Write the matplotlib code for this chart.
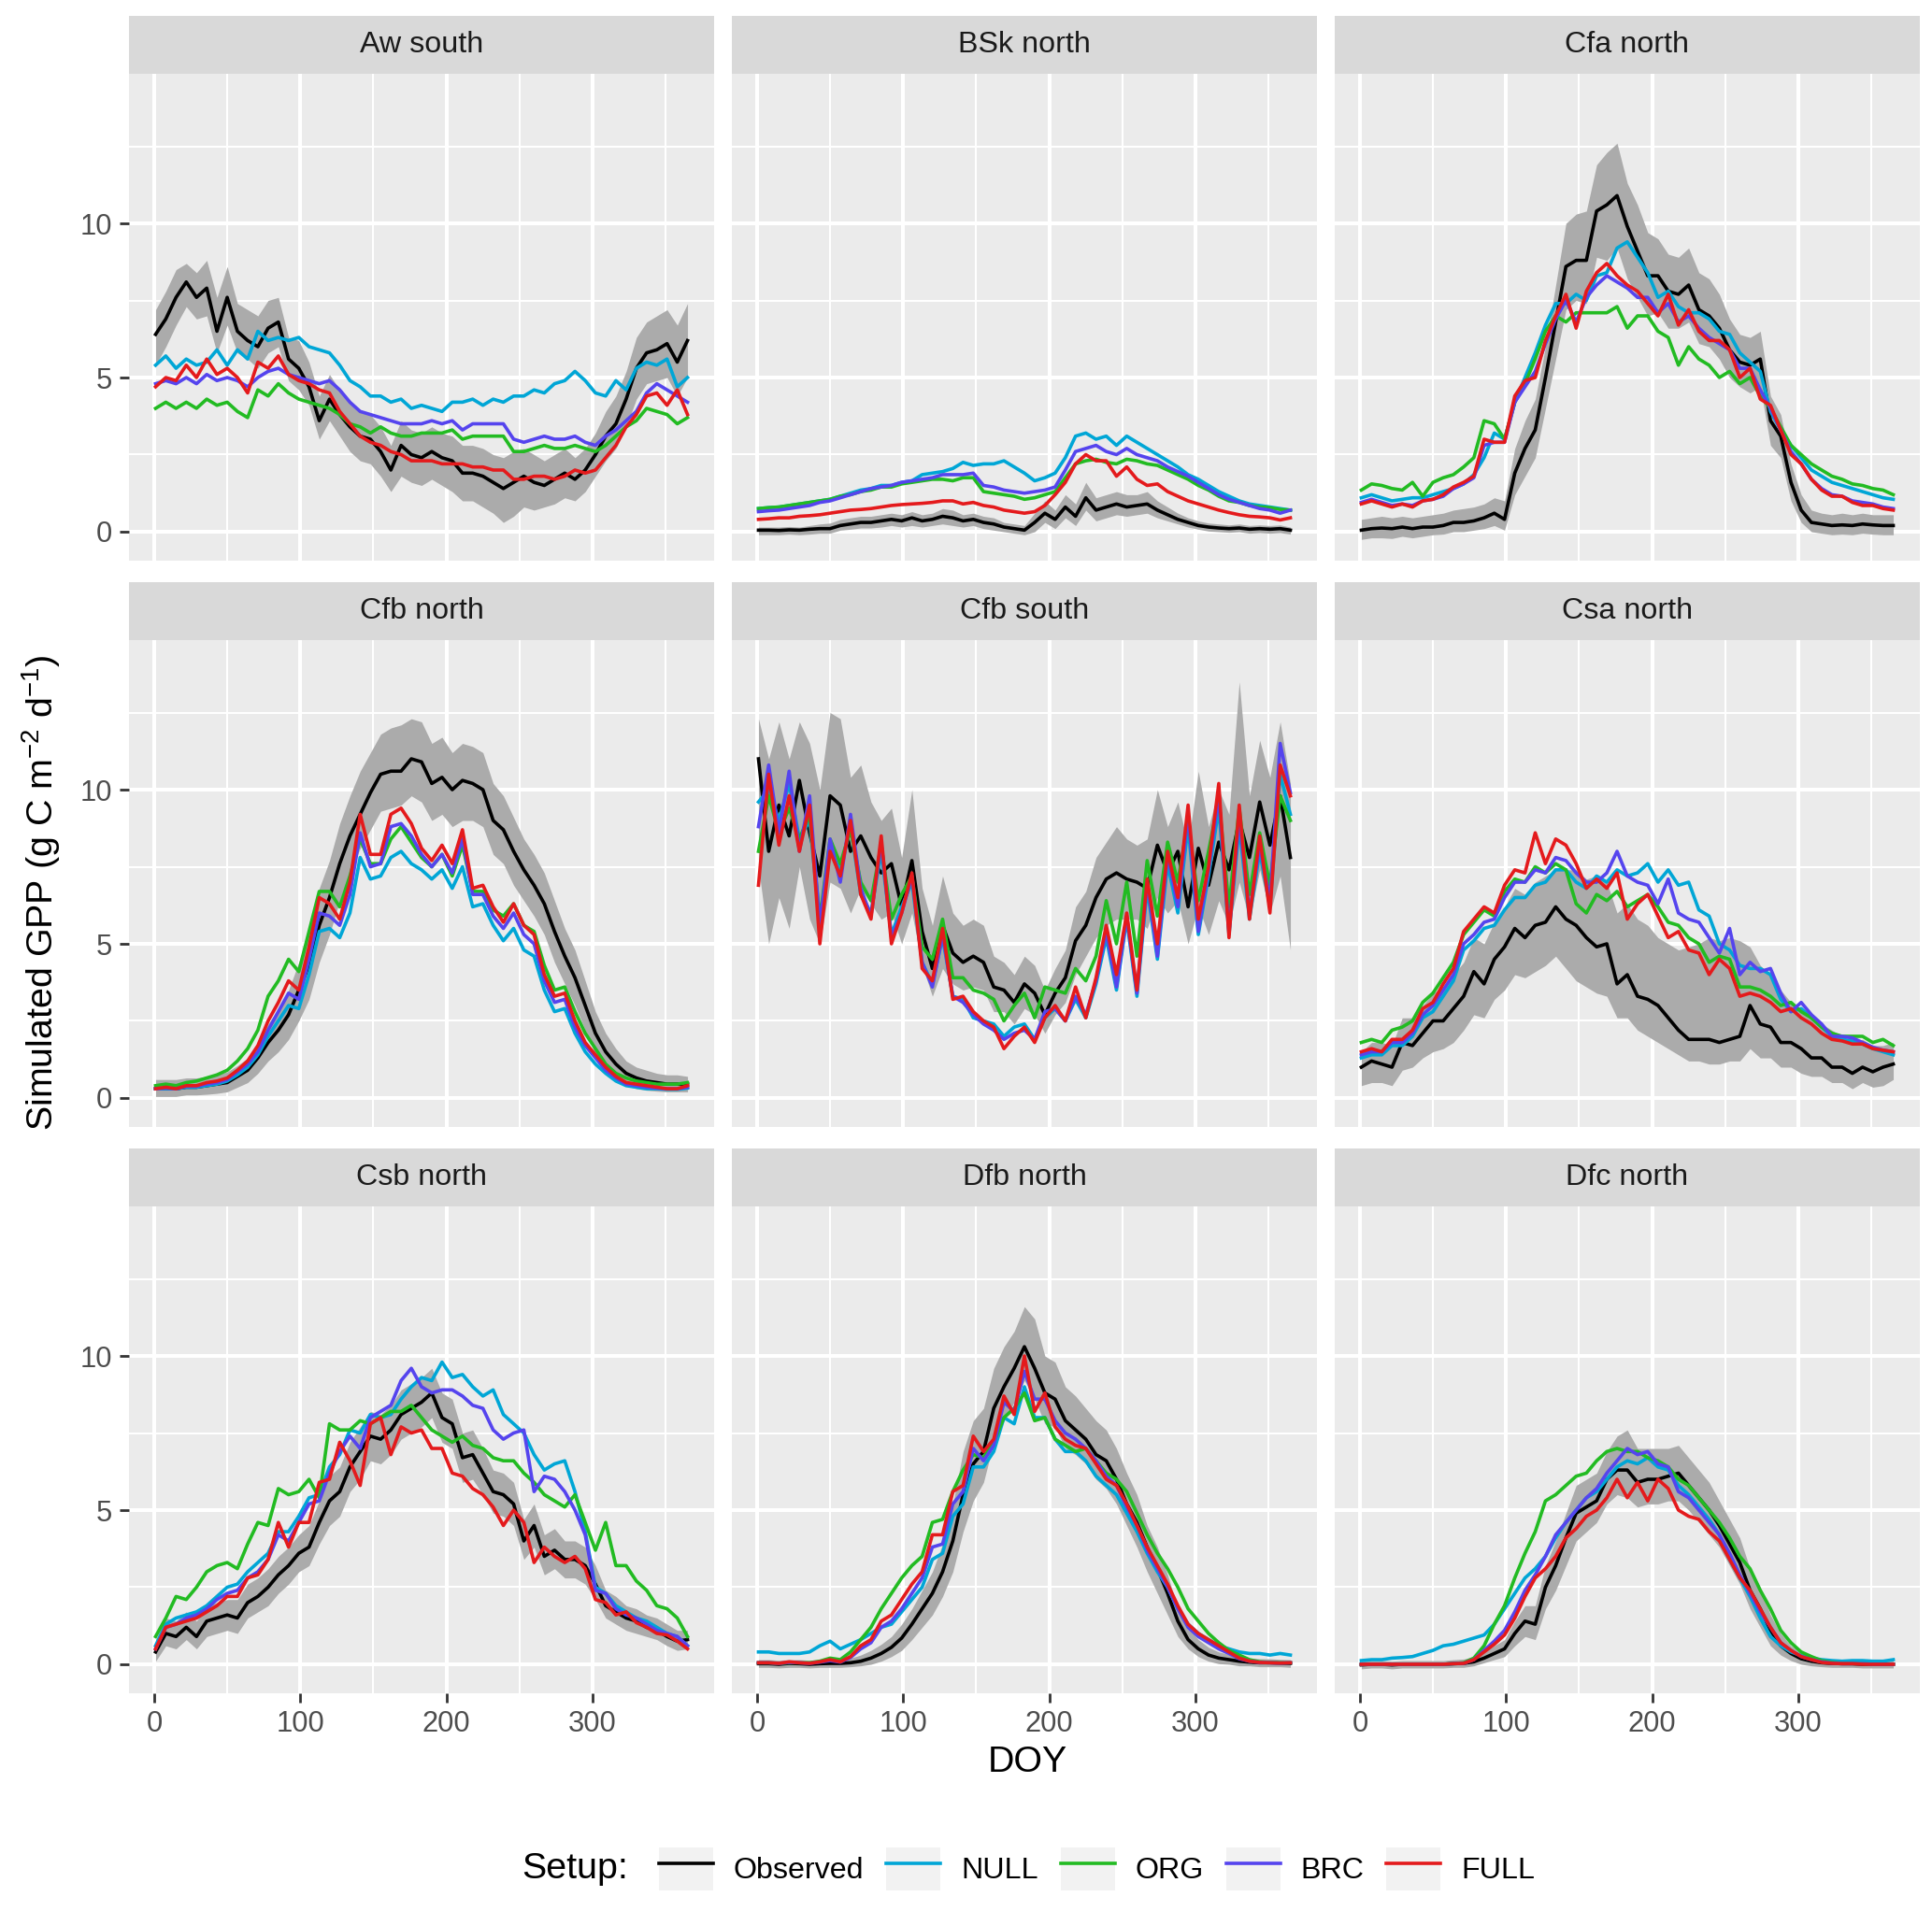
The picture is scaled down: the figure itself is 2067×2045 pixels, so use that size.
import matplotlib

matplotlib.use("Agg")
import matplotlib.pyplot as plt
from matplotlib.lines import Line2D
from matplotlib.patches import Rectangle

W, H, DPI = 2067, 2045, 200

plt.rcParams.update(
    {
        "font.family": ["Liberation Sans", "DejaVu Sans"],
        "mathtext.fontset": "custom",
        "mathtext.rm": "Liberation Sans",
        "mathtext.default": "regular",
    }
)

PANEL_BG = "#EBEBEB"
STRIP_BG = "#D9D9D9"
RIBBON = "#ABABAB"
COLORS = {
    "Observed": "black",
    "NULL": "#00A6D6",
    "ORG": "#22BB22",
    "BRC": "#5544EE",
    "FULL": "#E41A1C",
}
SETUPS = ["Observed", "NULL", "ORG", "BRC", "FULL"]

# day of year of every sampled value (weekly)
DOY = [1, 8, 15, 22, 29, 36, 43, 50, 57, 64,
       71, 78, 85, 92, 99, 106, 113, 120, 127, 134,
       141, 148, 155, 162, 169, 176, 183, 190, 197, 204,
       211, 218, 225, 232, 239, 246, 253, 260, 267, 274,
       281, 288, 295, 302, 309, 316, 323, 330, 337, 344,
       351, 358, 365]

# --- Aw south
AW_OBS = [6.4, 6.9, 7.6, 8.1, 7.6, 7.9, 6.5, 7.6, 6.5, 6.2, 6.0, 6.6, 6.8, 5.6, 5.3, 4.7, 3.6, 4.3, 3.8, 3.4,
          3.1, 3.0, 2.6, 2.0, 2.8, 2.5, 2.4, 2.6, 2.4, 2.3, 1.9, 1.9, 1.8, 1.6, 1.4, 1.6, 1.8, 1.6, 1.5, 1.7,
          1.9, 1.7, 2.0, 2.5, 3.1, 3.5, 4.3, 5.3, 5.8, 5.9, 6.1, 5.5, 6.2]
AW_LO = [5.4, 6.0, 6.7, 7.3, 6.9, 7.0, 5.8, 6.7, 5.8, 5.6, 5.3, 5.8, 6.0, 4.9, 4.6, 4.1, 3.0, 3.6, 3.1, 2.6,
         2.3, 2.2, 1.8, 1.3, 1.8, 1.6, 1.5, 1.7, 1.5, 1.3, 1.0, 1.0, 0.8, 0.6, 0.3, 0.5, 0.8, 0.7, 0.8, 0.9,
         1.1, 1.0, 1.3, 1.8, 2.3, 2.7, 3.4, 4.3, 4.8, 4.9, 5.0, 4.4, 5.0]
AW_HI = [7.2, 7.8, 8.5, 8.7, 8.4, 8.8, 7.6, 8.6, 7.4, 7.2, 7.0, 7.5, 7.6, 6.3, 6.2, 5.5, 4.4, 5.1, 4.6, 4.2,
         3.9, 3.8, 3.4, 2.8, 3.6, 3.3, 3.2, 3.4, 3.2, 3.1, 2.8, 2.8, 2.7, 2.5, 2.4, 2.6, 2.7, 2.5, 2.3, 2.5,
         2.7, 2.4, 2.7, 3.2, 3.9, 4.4, 5.2, 6.3, 6.8, 7.0, 7.2, 6.7, 7.4]
AW_NULL = [5.4, 5.7, 5.3, 5.6, 5.4, 5.5, 5.9, 5.4, 5.9, 5.6, 6.5, 6.2, 6.3, 6.2, 6.3, 6.0, 5.9, 5.8, 5.4, 4.9,
           4.7, 4.4, 4.4, 4.2, 4.3, 4.0, 4.1, 4.0, 3.9, 4.2, 4.2, 4.3, 4.1, 4.3, 4.2, 4.4, 4.4, 4.6, 4.5, 4.8,
           4.9, 5.2, 4.9, 4.5, 4.4, 4.9, 4.6, 5.3, 5.5, 5.4, 5.6, 4.7, 5.0]
AW_ORG = [4.0, 4.2, 4.0, 4.2, 4.0, 4.3, 4.1, 4.2, 3.9, 3.7, 4.6, 4.4, 4.8, 4.5, 4.3, 4.2, 4.1, 4.0, 3.8, 3.5,
          3.4, 3.2, 3.4, 3.2, 3.1, 3.1, 3.2, 3.2, 3.2, 3.3, 3.0, 3.1, 3.1, 3.1, 3.1, 2.6, 2.6, 2.7, 2.8, 2.7,
          2.7, 2.8, 2.7, 2.6, 2.8, 3.1, 3.4, 3.6, 4.0, 3.9, 3.8, 3.5, 3.7]
AW_BRC = [4.8, 4.9, 4.8, 5.0, 4.8, 5.1, 4.9, 5.0, 4.9, 4.7, 5.0, 5.2, 5.3, 5.1, 5.0, 4.9, 4.8, 4.9, 4.6, 4.2,
          3.9, 3.8, 3.7, 3.6, 3.5, 3.5, 3.5, 3.6, 3.5, 3.6, 3.3, 3.5, 3.5, 3.5, 3.5, 3.0, 2.9, 3.0, 3.1, 3.0,
          3.0, 3.1, 2.9, 2.8, 3.1, 3.3, 3.6, 3.9, 4.5, 4.8, 4.6, 4.4, 4.2]
AW_FULL = [4.7, 5.0, 4.9, 5.4, 5.0, 5.6, 5.1, 5.3, 5.0, 4.5, 5.5, 5.3, 5.7, 5.1, 4.9, 4.8, 4.6, 4.5, 3.9, 3.5,
           3.1, 2.9, 2.8, 2.6, 2.5, 2.3, 2.3, 2.3, 2.2, 2.2, 2.2, 2.1, 2.1, 2.0, 2.0, 1.7, 1.7, 1.8, 1.8, 1.7,
           1.8, 2.0, 1.9, 2.0, 2.4, 2.8, 3.4, 3.8, 4.4, 4.5, 4.1, 4.6, 3.8]

# --- BSk north
BSK_OBS = [0.05, 0.05, 0.04, 0.06, 0.05, 0.08, 0.1, 0.1, 0.2, 0.25, 0.3, 0.3, 0.35, 0.4, 0.35, 0.45, 0.35, 0.4,
           0.5, 0.45, 0.35, 0.4, 0.3, 0.25, 0.15, 0.1, 0.05, 0.3, 0.6, 0.4, 0.8, 0.5, 1.1, 0.7, 0.8, 0.9, 0.8,
           0.85, 0.9, 0.7, 0.55, 0.4, 0.3, 0.2, 0.15, 0.12, 0.1, 0.12, 0.08, 0.1, 0.08, 0.1, 0.05]
BSK_LO = [-0.1, -0.1, -0.1, -0.08, -0.1, -0.08, -0.05, -0.05, 0.05, 0.08, 0.12, 0.12, 0.15, 0.2, 0.15, 0.2,
          0.15, 0.2, 0.25, 0.2, 0.15, 0.2, 0.1, 0.05, 0.0, -0.05, -0.1, 0.0, 0.3, 0.1, 0.45, 0.2, 0.7, 0.35,
          0.45, 0.55, 0.5, 0.55, 0.6, 0.45, 0.35, 0.25, 0.15, 0.08, 0.02, 0.0, -0.02, 0.0, -0.05, -0.03, -0.05,
          -0.03, -0.08]
BSK_HI = [0.15, 0.15, 0.15, 0.17, 0.15, 0.2, 0.25, 0.28, 0.4, 0.45, 0.5, 0.5, 0.55, 0.6, 0.55, 0.65, 0.55, 0.6,
          0.75, 0.7, 0.55, 0.6, 0.5, 0.45, 0.3, 0.25, 0.2, 0.6, 1.0, 0.7, 1.2, 0.9, 1.6, 1.1, 1.2, 1.3, 1.2, 1.2,
          1.3, 1.0, 0.8, 0.6, 0.45, 0.35, 0.28, 0.25, 0.22, 0.25, 0.2, 0.22, 0.2, 0.22, 0.15]
BSK_NULL = [0.75, 0.78, 0.8, 0.85, 0.9, 0.95, 1.0, 1.05, 1.15, 1.25, 1.35, 1.4, 1.5, 1.5, 1.6, 1.65, 1.85, 1.9,
            1.95, 2.05, 2.25, 2.15, 2.2, 2.2, 2.3, 2.1, 1.9, 1.65, 1.75, 1.9, 2.4, 3.1, 3.2, 3.0, 3.1, 2.8, 3.1,
            2.9, 2.7, 2.5, 2.3, 2.1, 1.85, 1.7, 1.5, 1.3, 1.15, 1.0, 0.9, 0.85, 0.8, 0.75, 0.7]
BSK_ORG = [0.75, 0.78, 0.8, 0.85, 0.9, 0.95, 1.0, 1.05, 1.15, 1.2, 1.3, 1.35, 1.45, 1.45, 1.55, 1.6, 1.65, 1.7,
           1.7, 1.65, 1.75, 1.75, 1.3, 1.25, 1.2, 1.15, 1.05, 1.1, 1.2, 1.3, 1.75, 2.2, 2.3, 2.35, 2.25, 2.2,
           2.35, 2.3, 2.2, 2.15, 2.0, 1.85, 1.7, 1.5, 1.35, 1.15, 1.0, 0.95, 0.85, 0.8, 0.78, 0.72, 0.7]
BSK_BRC = [0.65, 0.68, 0.7, 0.75, 0.8, 0.85, 0.95, 1.0, 1.1, 1.2, 1.3, 1.4, 1.45, 1.5, 1.6, 1.65, 1.7, 1.75,
           1.85, 1.85, 1.85, 1.9, 1.5, 1.45, 1.35, 1.3, 1.25, 1.3, 1.35, 1.45, 2.0, 2.6, 2.7, 2.8, 2.6, 2.5, 2.7,
           2.5, 2.4, 2.3, 2.1, 1.95, 1.8, 1.6, 1.4, 1.2, 1.05, 0.95, 0.85, 0.75, 0.7, 0.6, 0.7]
BSK_FULL = [0.4, 0.42, 0.45, 0.45, 0.5, 0.52, 0.55, 0.6, 0.65, 0.7, 0.72, 0.75, 0.8, 0.85, 0.88, 0.9, 0.92, 0.95,
            1.0, 1.0, 0.9, 0.95, 0.85, 0.8, 0.7, 0.65, 0.6, 0.65, 0.85, 1.2, 1.6, 2.2, 2.5, 2.3, 2.3, 1.8, 2.1,
            1.7, 1.5, 1.55, 1.3, 1.15, 1.0, 0.9, 0.8, 0.7, 0.62, 0.55, 0.5, 0.48, 0.45, 0.38, 0.45]

# --- Cfa north
CFA_OBS = [0.05, 0.1, 0.12, 0.1, 0.15, 0.1, 0.15, 0.15, 0.2, 0.3, 0.3, 0.35, 0.45, 0.6, 0.4, 1.9, 2.7, 3.3, 5.0,
           6.8, 8.6, 8.8, 8.8, 10.4, 10.6, 10.9, 9.9, 9.1, 8.3, 8.3, 7.8, 7.7, 8.0, 7.2, 7.0, 6.6, 5.9, 5.5, 5.4,
           5.6, 3.6, 3.1, 1.6, 0.7, 0.3, 0.25, 0.2, 0.22, 0.2, 0.25, 0.22, 0.2, 0.2]
CFA_LO = [-0.25, -0.2, -0.2, -0.22, -0.15, -0.2, -0.15, -0.1, -0.08, 0.0, 0.0, 0.05, 0.1, 0.2, 0.05, 1.2, 1.8,
          2.4, 4.0, 5.6, 7.2, 7.5, 7.4, 8.9, 8.8, 9.2, 8.2, 7.6, 7.0, 7.1, 6.6, 6.6, 6.8, 6.1, 6.0, 5.6, 5.0,
          4.7, 4.5, 4.7, 2.8, 2.4, 1.0, 0.3, 0.0, -0.05, -0.1, -0.08, -0.1, -0.05, -0.08, -0.1, -0.1]
CFA_HI = [0.4, 0.45, 0.5, 0.45, 0.5, 0.45, 0.5, 0.55, 0.6, 0.7, 0.75, 0.8, 0.9, 1.1, 1.0, 2.7, 3.6, 4.3, 6.0,
          8.0, 10.0, 10.3, 10.4, 11.9, 12.3, 12.6, 11.3, 10.6, 9.7, 9.5, 9.0, 8.9, 9.2, 8.4, 8.2, 7.7, 6.9, 6.4,
          6.3, 6.5, 4.4, 3.8, 2.2, 1.2, 0.7, 0.6, 0.55, 0.6, 0.55, 0.6, 0.55, 0.55, 0.55]
CFA_NULL = [1.1, 1.2, 1.1, 1.0, 1.05, 1.1, 1.1, 1.2, 1.3, 1.4, 1.55, 1.85, 2.4, 3.2, 3.0, 4.2, 5.0, 5.8, 6.7,
            7.4, 7.4, 7.7, 7.5, 8.3, 8.4, 9.2, 9.4, 8.9, 8.4, 7.6, 7.8, 7.3, 7.1, 7.1, 6.9, 6.5, 6.4, 5.8, 5.5,
            5.2, 3.9, 3.3, 2.8, 2.4, 2.0, 1.8, 1.6, 1.5, 1.4, 1.3, 1.2, 1.1, 1.05]
CFA_ORG = [1.35, 1.55, 1.5, 1.4, 1.35, 1.6, 1.15, 1.6, 1.75, 1.85, 2.1, 2.4, 3.6, 3.5, 3.0, 4.2, 4.8, 5.6, 6.5,
           7.0, 6.8, 7.1, 7.1, 7.1, 7.1, 7.3, 6.6, 7.0, 7.0, 6.5, 6.3, 5.4, 6.0, 5.6, 5.4, 5.0, 5.2, 4.8, 5.0,
           4.4, 4.0, 3.4, 2.8, 2.5, 2.2, 2.0, 1.8, 1.7, 1.55, 1.5, 1.4, 1.35, 1.2]
CFA_BRC = [0.95, 1.05, 0.95, 0.85, 0.9, 0.85, 1.0, 1.05, 1.15, 1.4, 1.55, 1.75, 2.8, 2.9, 2.9, 4.2, 4.7, 5.2,
           6.1, 6.9, 7.5, 6.8, 7.6, 8.0, 8.3, 8.1, 7.9, 7.6, 7.6, 7.1, 7.4, 6.8, 7.0, 6.6, 6.3, 6.1, 5.9, 5.3,
           5.3, 4.6, 4.0, 3.3, 2.6, 2.2, 1.7, 1.4, 1.2, 1.15, 1.0, 0.95, 0.9, 0.8, 0.75]
CFA_FULL = [0.9, 1.0, 0.9, 0.8, 0.9, 0.8, 1.0, 1.05, 1.2, 1.45, 1.6, 1.8, 3.0, 2.9, 2.9, 4.4, 4.9, 5.0, 6.2,
            7.0, 7.7, 6.6, 7.8, 8.4, 8.7, 8.3, 8.0, 7.8, 7.4, 7.0, 7.7, 6.7, 7.2, 6.5, 6.2, 6.2, 5.9, 5.0, 5.3,
            4.3, 4.1, 3.3, 2.5, 2.2, 1.7, 1.35, 1.15, 1.15, 0.95, 0.85, 0.85, 0.75, 0.7]

# --- Cfb north
CFBN_OBS = [0.3, 0.3, 0.3, 0.35, 0.35, 0.4, 0.45, 0.5, 0.7, 0.9, 1.3, 1.8, 2.2, 2.7, 3.5, 4.3, 5.6, 6.5, 7.6,
            8.5, 9.2, 9.9, 10.5, 10.6, 10.6, 11.0, 10.9, 10.2, 10.4, 10.0, 10.3, 10.2, 10.0, 9.0, 8.7, 8.0, 7.4,
            6.9, 6.3, 5.4, 4.6, 3.9, 3.0, 2.1, 1.5, 1.1, 0.8, 0.65, 0.55, 0.5, 0.45, 0.45, 0.45]
CFBN_LO = [0.05, 0.05, 0.05, 0.1, 0.1, 0.12, 0.15, 0.2, 0.35, 0.5, 0.8, 1.2, 1.5, 1.9, 2.5, 3.2, 4.4, 5.3, 6.4,
           7.3, 8.1, 8.7, 9.3, 9.4, 9.5, 9.8, 9.6, 9.0, 9.2, 8.8, 9.0, 9.0, 8.8, 7.9, 7.6, 6.9, 6.4, 5.9, 5.3,
           4.4, 3.7, 3.0, 2.2, 1.4, 0.9, 0.6, 0.4, 0.3, 0.25, 0.22, 0.2, 0.2, 0.2]
CFBN_HI = [0.6, 0.6, 0.6, 0.65, 0.65, 0.7, 0.75, 0.85, 1.05, 1.3, 1.8, 2.4, 2.9, 3.5, 4.4, 5.4, 6.8, 7.7, 8.9,
           9.8, 10.6, 11.2, 11.8, 12.0, 12.1, 12.3, 12.2, 11.5, 11.7, 11.2, 11.5, 11.4, 11.2, 10.2, 9.8, 9.1,
           8.4, 7.9, 7.3, 6.4, 5.5, 4.8, 3.8, 2.8, 2.1, 1.6, 1.2, 1.0, 0.9, 0.8, 0.75, 0.75, 0.7]
CFBN_NULL = [0.3, 0.3, 0.3, 0.35, 0.35, 0.4, 0.45, 0.55, 0.75, 1.0, 1.4, 2.0, 2.5, 3.0, 2.9, 4.0, 5.4, 5.5, 5.2,
             6.0, 7.8, 7.1, 7.2, 7.8, 8.0, 7.6, 7.4, 7.1, 7.4, 6.8, 7.5, 6.2, 6.3, 5.6, 5.1, 5.5, 4.8, 4.6, 3.5,
             2.8, 2.9, 2.1, 1.5, 1.1, 0.8, 0.55, 0.4, 0.35, 0.3, 0.3, 0.28, 0.28, 0.32]
CFBN_ORG = [0.4, 0.45, 0.4, 0.5, 0.55, 0.65, 0.75, 0.9, 1.2, 1.6, 2.2, 3.3, 3.8, 4.5, 4.1, 5.4, 6.7, 6.7, 6.2,
            7.2, 8.4, 7.6, 7.6, 8.4, 8.8, 8.3, 7.8, 7.5, 7.9, 7.2, 8.2, 6.7, 6.7, 6.1, 5.9, 6.3, 5.6, 5.4, 4.3,
            3.5, 3.6, 2.8, 2.1, 1.6, 1.1, 0.8, 0.65, 0.55, 0.5, 0.45, 0.45, 0.45, 0.5]
CFBN_BRC = [0.3, 0.32, 0.3, 0.38, 0.38, 0.45, 0.5, 0.6, 0.85, 1.1, 1.5, 2.2, 2.8, 3.4, 3.2, 4.5, 6.0, 5.9, 5.6,
            6.6, 8.6, 7.5, 7.6, 8.8, 8.9, 8.5, 7.9, 7.5, 7.9, 7.3, 8.4, 6.6, 6.6, 5.9, 5.5, 6.0, 5.3, 5.0, 3.8,
            3.1, 3.2, 2.3, 1.7, 1.3, 0.9, 0.65, 0.45, 0.4, 0.35, 0.32, 0.3, 0.3, 0.35]
CFBN_FULL = [0.3, 0.35, 0.3, 0.4, 0.4, 0.5, 0.55, 0.65, 0.9, 1.2, 1.7, 2.5, 3.1, 3.8, 3.5, 4.9, 6.5, 6.3, 5.8,
             7.0, 9.2, 7.9, 7.9, 9.2, 9.4, 8.9, 8.1, 7.7, 8.2, 7.6, 8.7, 6.8, 6.9, 6.2, 5.7, 6.3, 5.6, 5.3, 4.0,
             3.3, 3.4, 2.5, 1.8, 1.4, 1.0, 0.7, 0.5, 0.45, 0.4, 0.35, 0.3, 0.3, 0.4]

# --- Cfb south
CFBS_OBS = [11.0, 8.0, 9.5, 8.5, 10.3, 8.6, 7.2, 9.8, 9.5, 8.0, 8.5, 7.8, 7.3, 7.6, 6.2, 7.7, 5.4, 4.2, 5.6,
            4.7, 4.4, 4.6, 4.4, 3.6, 3.5, 3.1, 3.7, 3.4, 2.7, 3.4, 3.9, 5.1, 5.6, 6.5, 7.1, 7.3, 7.1, 7.0, 6.8,
            8.2, 7.3, 8.0, 6.2, 8.1, 6.9, 8.3, 7.4, 9.0, 7.8, 9.6, 8.2, 9.8, 7.8]
CFBS_LO = [7.5, 5.0, 6.5, 5.5, 7.5, 5.8, 5.0, 7.0, 6.8, 6.0, 6.8, 6.3, 5.8, 6.0, 5.0, 6.0, 4.3, 3.3, 4.2, 3.7,
           3.5, 3.6, 3.5, 2.8, 2.8, 2.4, 2.9, 2.7, 2.1, 2.7, 3.1, 4.0, 4.6, 5.2, 5.6, 5.8, 5.8, 5.8, 5.5, 6.5,
           6.0, 6.4, 5.0, 6.2, 5.3, 6.4, 5.6, 7.0, 5.8, 7.4, 6.0, 7.2, 4.8]
CFBS_HI = [12.3, 11.0, 12.2, 11.0, 12.2, 11.5, 10.0, 12.5, 12.3, 10.4, 10.8, 9.6, 9.0, 9.4, 7.8, 10.0, 6.8, 5.6,
           7.2, 6.0, 5.6, 5.8, 5.6, 4.6, 4.4, 4.0, 4.6, 4.3, 3.5, 4.2, 4.8, 6.2, 6.7, 7.8, 8.3, 8.8, 8.4, 8.2,
           8.4, 10.0, 8.8, 9.6, 8.2, 10.6, 8.8, 10.0, 9.2, 13.5, 9.8, 11.6, 10.4, 12.2, 10.2]
CFBS_NULL = [9.6, 10.0, 9.0, 10.2, 8.4, 9.0, 5.6, 8.0, 7.4, 8.8, 6.6, 6.0, 8.0, 5.3, 6.2, 7.0, 4.4, 3.7, 5.2,
             3.3, 3.2, 2.6, 2.5, 2.4, 2.0, 2.3, 2.4, 1.9, 2.6, 2.9, 2.5, 3.2, 2.6, 3.7, 5.2, 3.5, 5.8, 3.3, 6.8,
             4.5, 7.6, 6.0, 8.8, 5.3, 7.2, 9.4, 5.3, 8.8, 5.8, 8.0, 6.2, 10.5, 9.2]
CFBS_ORG = [8.0, 9.8, 8.6, 9.4, 8.4, 9.2, 5.8, 8.4, 7.6, 8.7, 7.0, 6.4, 8.2, 5.8, 6.6, 7.2, 4.9, 4.5, 5.8, 3.9,
            3.9, 3.5, 3.4, 3.2, 2.5, 3.0, 3.4, 2.6, 3.6, 3.5, 3.4, 4.2, 3.8, 4.6, 6.4, 5.0, 7.0, 4.6, 7.7, 5.9,
            8.3, 7.0, 9.0, 6.4, 8.0, 9.7, 6.2, 9.4, 6.6, 8.6, 6.9, 9.8, 9.0]
CFBS_BRC = [8.8, 10.8, 8.6, 10.6, 8.0, 9.8, 5.6, 8.4, 7.0, 9.2, 6.8, 5.9, 8.3, 5.2, 6.0, 7.2, 4.4, 3.6, 5.3,
            3.3, 3.1, 2.7, 2.4, 2.2, 1.9, 2.1, 2.2, 1.9, 2.8, 2.9, 2.5, 3.3, 2.7, 3.8, 5.4, 3.6, 5.9, 3.4, 7.0,
            4.6, 7.9, 6.2, 9.2, 5.4, 7.4, 9.8, 5.4, 9.1, 6.0, 8.2, 6.4, 11.5, 9.9]
CFBS_FULL = [6.9, 10.5, 8.2, 9.8, 8.0, 9.5, 5.0, 8.0, 7.2, 9.0, 6.6, 5.8, 8.5, 5.0, 6.0, 7.3, 4.2, 3.8, 5.5,
             3.2, 3.3, 2.8, 2.5, 2.3, 1.6, 2.0, 2.3, 1.8, 2.6, 3.0, 2.5, 3.6, 2.6, 3.9, 5.6, 4.0, 6.0, 3.5, 7.1,
             5.0, 8.0, 6.5, 9.5, 5.8, 7.5, 10.2, 5.2, 9.5, 5.8, 8.5, 6.0, 10.8, 9.8]

# --- Csa north
CSA_OBS = [1.0, 1.2, 1.1, 1.0, 1.8, 1.7, 2.1, 2.5, 2.5, 2.9, 3.3, 4.1, 3.7, 4.5, 4.9, 5.5, 5.2, 5.6, 5.7, 6.2,
           5.8, 5.6, 5.2, 4.9, 5.0, 3.7, 4.0, 3.3, 3.2, 3.0, 2.6, 2.2, 1.9, 1.9, 1.9, 1.8, 1.9, 2.0, 3.0, 2.4,
           2.3, 1.8, 1.8, 1.6, 1.3, 1.3, 1.0, 1.0, 0.8, 1.0, 0.85, 1.0, 1.1]
CSA_LO = [0.4, 0.5, 0.5, 0.4, 0.9, 1.0, 1.3, 1.5, 1.6, 1.8, 2.2, 2.7, 2.6, 3.2, 3.5, 4.0, 3.9, 4.1, 4.3, 4.6,
          4.2, 3.8, 3.6, 3.4, 3.3, 2.6, 2.6, 2.2, 2.0, 1.8, 1.6, 1.4, 1.2, 1.2, 1.1, 1.1, 1.2, 1.2, 1.6, 1.3,
          1.3, 1.0, 1.0, 0.8, 0.7, 0.7, 0.5, 0.5, 0.3, 0.5, 0.35, 0.4, 0.6]
CSA_HI = [1.5, 1.8, 1.8, 1.7, 2.6, 2.6, 3.0, 3.4, 3.6, 4.0, 4.4, 5.2, 5.0, 5.7, 6.2, 6.8, 6.6, 7.0, 7.2, 7.4,
          7.4, 7.4, 7.1, 7.2, 7.0, 6.0, 6.3, 5.8, 5.6, 5.2, 5.0, 4.8, 4.9, 5.0, 5.2, 5.1, 5.2, 5.1, 4.9, 4.3,
          4.0, 3.5, 3.1, 2.9, 2.6, 2.4, 2.2, 2.0, 1.8, 1.9, 1.7, 1.7, 1.8]
CSA_NULL = [1.3, 1.4, 1.4, 1.7, 1.7, 2.0, 2.6, 2.8, 3.3, 3.8, 4.8, 5.1, 5.5, 5.6, 6.1, 6.5, 6.5, 6.9, 7.0, 7.4,
            7.4, 7.0, 6.8, 7.2, 7.0, 7.4, 7.2, 7.3, 7.6, 7.0, 7.4, 6.9, 7.0, 6.1, 5.9, 5.0, 4.8, 4.3, 4.2, 4.2,
            4.0, 3.2, 2.8, 2.9, 2.6, 2.3, 2.0, 1.9, 1.85, 1.75, 1.6, 1.5, 1.4]
CSA_ORG = [1.8, 1.9, 1.8, 2.2, 2.3, 2.5, 3.1, 3.4, 3.9, 4.4, 5.3, 5.7, 6.1, 5.9, 6.7, 7.1, 7.0, 7.5, 7.3, 7.6,
           7.4, 6.3, 6.0, 6.6, 6.4, 6.7, 6.2, 6.4, 6.6, 6.2, 5.7, 5.6, 5.2, 5.0, 4.4, 4.6, 4.5, 3.6, 3.6, 3.5,
           3.3, 3.0, 3.1, 2.8, 2.6, 2.3, 2.1, 2.0, 2.0, 2.0, 1.8, 1.9, 1.7]
CSA_BRC = [1.4, 1.5, 1.5, 1.8, 1.8, 2.1, 2.7, 3.0, 3.5, 4.0, 5.0, 5.3, 5.7, 5.8, 6.5, 7.0, 7.0, 7.4, 7.3, 7.8,
           7.7, 7.3, 7.0, 7.0, 7.3, 8.0, 7.2, 7.0, 6.9, 6.3, 7.1, 6.0, 5.8, 5.7, 5.2, 4.7, 5.5, 4.0, 4.4, 4.1,
           4.2, 3.4, 2.8, 3.1, 2.7, 2.4, 2.0, 2.0, 1.95, 1.8, 1.65, 1.55, 1.5]
CSA_FULL = [1.5, 1.6, 1.5, 1.9, 1.9, 2.2, 2.9, 3.1, 3.7, 4.2, 5.4, 5.8, 6.2, 6.0, 6.9, 7.4, 7.3, 8.6, 7.6, 8.4,
            8.2, 7.6, 6.8, 7.1, 6.8, 7.3, 5.8, 6.3, 6.6, 5.9, 5.2, 5.4, 4.8, 4.7, 4.0, 4.5, 4.2, 3.3, 3.4, 3.3,
            3.1, 2.8, 2.9, 2.6, 2.4, 2.1, 1.9, 1.85, 1.75, 1.75, 1.6, 1.55, 1.5]

# --- Csb north
CSB_OBS = [0.4, 1.0, 0.9, 1.2, 0.9, 1.4, 1.5, 1.6, 1.5, 2.0, 2.2, 2.5, 2.9, 3.2, 3.6, 3.8, 4.6, 5.3, 5.6, 6.4,
           6.9, 7.4, 7.3, 7.6, 8.1, 8.3, 8.5, 8.8, 8.0, 7.8, 6.7, 6.8, 6.2, 5.6, 5.5, 5.2, 4.0, 4.5, 3.5, 3.7,
           3.4, 3.4, 3.2, 2.6, 1.9, 1.7, 1.5, 1.4, 1.2, 1.1, 0.9, 0.75, 0.8]
CSB_LO = [0.1, 0.6, 0.5, 0.8, 0.5, 0.9, 1.0, 1.1, 1.0, 1.5, 1.7, 1.9, 2.3, 2.6, 3.0, 3.2, 3.9, 4.5, 4.8, 5.6,
          6.0, 6.6, 6.5, 6.8, 7.3, 7.5, 7.7, 8.0, 7.2, 7.0, 5.9, 6.0, 5.5, 4.9, 4.8, 4.5, 3.4, 3.8, 2.9, 3.1,
          2.8, 2.8, 2.6, 2.1, 1.5, 1.3, 1.1, 1.0, 0.9, 0.8, 0.6, 0.45, 0.5]
CSB_HI = [0.8, 1.5, 1.4, 1.7, 1.4, 1.9, 2.0, 2.1, 2.1, 2.6, 2.8, 3.1, 3.5, 3.8, 4.2, 4.5, 5.3, 6.1, 6.4, 7.2,
          7.7, 8.2, 8.1, 8.4, 8.9, 9.1, 9.3, 9.6, 8.8, 8.6, 7.5, 7.6, 7.0, 6.3, 6.2, 5.9, 4.7, 5.2, 4.2, 4.4,
          4.0, 4.0, 3.8, 3.2, 2.4, 2.2, 1.9, 1.8, 1.6, 1.5, 1.3, 1.1, 1.1]
CSB_NULL = [0.6, 1.3, 1.5, 1.6, 1.7, 1.9, 2.2, 2.5, 2.6, 3.0, 3.3, 3.6, 4.3, 4.3, 4.8, 5.4, 5.5, 6.4, 6.8, 7.6,
            7.5, 8.1, 8.0, 8.1, 8.6, 9.0, 9.3, 9.2, 9.8, 9.3, 9.4, 9.0, 8.7, 8.9, 8.1, 7.8, 7.5, 6.8, 6.3, 6.5,
            6.6, 5.6, 4.3, 2.5, 2.3, 1.9, 1.7, 1.5, 1.4, 1.2, 1.0, 0.9, 0.6]
CSB_ORG = [0.9, 1.5, 2.2, 2.1, 2.5, 3.0, 3.2, 3.3, 3.1, 3.9, 4.6, 4.5, 5.7, 5.5, 5.6, 6.0, 5.4, 7.8, 7.6, 7.6,
           7.9, 7.8, 8.0, 8.2, 8.2, 8.4, 8.0, 7.6, 7.4, 7.2, 7.4, 7.1, 7.0, 6.7, 6.6, 6.6, 6.2, 5.9, 5.5, 5.3,
           5.1, 5.5, 4.6, 3.7, 4.6, 3.2, 3.2, 2.7, 2.4, 1.9, 1.8, 1.5, 0.9]
CSB_BRC = [0.5, 1.2, 1.3, 1.5, 1.6, 1.8, 2.1, 2.3, 2.4, 2.8, 3.0, 3.4, 4.2, 4.0, 4.6, 5.2, 5.3, 6.2, 6.9, 7.4,
           7.0, 8.0, 8.2, 8.4, 9.2, 9.6, 9.0, 8.8, 8.9, 8.9, 8.7, 8.4, 8.3, 7.6, 7.3, 7.5, 7.6, 5.6, 6.1, 6.0,
           5.6, 5.0, 4.2, 2.4, 2.3, 1.8, 1.6, 1.5, 1.3, 1.1, 1.0, 0.9, 0.6]
CSB_FULL = [0.5, 1.2, 1.3, 1.4, 1.5, 1.7, 1.9, 2.2, 2.2, 2.8, 2.9, 3.4, 4.6, 3.8, 4.6, 4.6, 5.9, 6.0, 7.2, 6.6,
            5.8, 7.8, 8.0, 6.8, 7.7, 7.5, 7.6, 7.0, 7.0, 6.2, 6.1, 5.7, 5.5, 5.1, 4.5, 5.0, 4.6, 3.3, 3.8, 3.5,
            3.3, 3.5, 3.1, 2.1, 2.0, 1.6, 1.7, 1.35, 1.2, 1.0, 0.95, 0.75, 0.5]

# --- Dfb north
DFB_OBS = [0.02, 0.02, 0.0, 0.03, 0.02, 0.0, 0.02, 0.03, 0.03, 0.05, 0.1, 0.2, 0.35, 0.55, 0.85, 1.3, 1.8, 2.3,
           3.0, 4.0, 5.5, 6.5, 6.9, 8.3, 9.0, 9.6, 10.3, 9.6, 8.8, 8.6, 7.9, 7.6, 7.3, 6.8, 6.6, 6.0, 5.2, 4.6,
           3.8, 3.1, 2.3, 1.4, 0.8, 0.5, 0.3, 0.2, 0.15, 0.1, 0.07, 0.05, 0.05, 0.04, 0.03]
DFB_LO = [-0.1, -0.1, -0.12, -0.1, -0.1, -0.12, -0.1, -0.1, -0.1, -0.08, -0.05, 0.0, 0.1, 0.25, 0.45, 0.8, 1.2,
          1.6, 2.2, 3.0, 4.3, 5.3, 5.9, 7.2, 7.9, 8.5, 9.2, 8.6, 7.8, 7.7, 7.0, 6.8, 6.5, 6.0, 5.7, 5.2, 4.5,
          3.8, 3.0, 2.3, 1.6, 0.9, 0.5, 0.25, 0.1, 0.02, 0.0, -0.05, -0.05, -0.08, -0.08, -0.08, -0.1]
DFB_HI = [0.15, 0.15, 0.13, 0.15, 0.15, 0.13, 0.15, 0.17, 0.18, 0.2, 0.3, 0.45, 0.65, 0.9, 1.3, 1.8, 2.4, 3.0,
          3.9, 5.2, 6.9, 7.9, 8.3, 9.6, 10.3, 10.8, 11.6, 11.2, 10.0, 9.8, 9.0, 8.7, 8.3, 7.9, 7.6, 7.0, 6.2,
          5.5, 4.5, 3.8, 2.9, 1.8, 1.2, 0.8, 0.55, 0.4, 0.32, 0.25, 0.2, 0.18, 0.18, 0.16, 0.15]
DFB_NULL = [0.4, 0.4, 0.35, 0.35, 0.35, 0.4, 0.6, 0.75, 0.5, 0.65, 0.8, 1.0, 1.2, 1.3, 1.7, 2.1, 2.5, 3.4, 3.6,
            4.8, 5.2, 6.4, 6.4, 6.9, 8.0, 7.8, 9.0, 8.0, 8.0, 7.3, 6.9, 6.9, 6.6, 6.1, 5.8, 5.5, 4.9, 4.3, 3.6,
            3.0, 2.5, 1.8, 1.3, 1.0, 0.8, 0.6, 0.5, 0.4, 0.35, 0.35, 0.3, 0.35, 0.3]
DFB_ORG = [0.05, 0.05, 0.03, 0.05, 0.05, 0.05, 0.1, 0.2, 0.15, 0.4, 0.8, 1.2, 1.8, 2.3, 2.8, 3.2, 3.5, 4.6, 4.7,
           5.6, 6.3, 6.8, 6.7, 7.2, 8.0, 8.3, 8.8, 7.9, 8.0, 7.3, 7.1, 6.9, 7.0, 6.6, 6.2, 6.0, 5.6, 4.9, 4.2,
           3.6, 3.1, 2.5, 1.8, 1.4, 1.0, 0.7, 0.45, 0.3, 0.15, 0.08, 0.06, 0.05, 0.05]
DFB_BRC = [0.05, 0.05, 0.03, 0.06, 0.05, 0.03, 0.07, 0.12, 0.07, 0.22, 0.5, 0.7, 1.2, 1.4, 1.8, 2.3, 2.8, 3.8,
           3.9, 5.2, 5.6, 7.0, 6.6, 7.1, 8.5, 8.2, 9.5, 8.6, 8.6, 7.9, 7.5, 7.3, 7.0, 6.6, 6.1, 5.8, 5.1, 4.5,
           3.7, 3.1, 2.5, 1.8, 1.2, 0.9, 0.7, 0.5, 0.35, 0.18, 0.1, 0.06, 0.05, 0.04, 0.05]
DFB_FULL = [0.05, 0.05, 0.03, 0.08, 0.05, 0.03, 0.08, 0.15, 0.08, 0.25, 0.6, 0.8, 1.4, 1.6, 2.1, 2.6, 3.0, 4.2,
            4.2, 5.6, 5.8, 7.4, 6.9, 7.3, 8.7, 8.1, 10.0, 8.2, 8.8, 7.7, 7.3, 7.1, 7.0, 6.5, 6.0, 5.8, 5.2, 4.5,
            3.8, 3.2, 2.6, 1.9, 1.3, 1.0, 0.8, 0.6, 0.4, 0.2, 0.1, 0.06, 0.05, 0.04, 0.05]

# --- Dfc north
DFC_OBS = [-0.02, 0.0, 0.0, -0.02, 0.0, 0.0, 0.0, 0.0, 0.0, 0.02, 0.03, 0.08, 0.2, 0.35, 0.5, 1.0, 1.4, 1.3,
           2.5, 3.2, 4.1, 4.9, 5.1, 5.3, 6.0, 6.3, 6.3, 5.9, 6.0, 6.0, 6.1, 6.2, 5.8, 5.4, 5.0, 4.5, 3.9, 3.3,
           2.4, 1.8, 1.1, 0.6, 0.35, 0.18, 0.1, 0.05, 0.03, 0.02, 0.02, 0.0, 0.0, 0.0, 0.0]
DFC_LO = [-0.15, -0.12, -0.12, -0.15, -0.12, -0.12, -0.12, -0.12, -0.12, -0.1, -0.1, -0.05, 0.05, 0.15, 0.25,
          0.6, 0.9, 0.8, 1.8, 2.4, 3.2, 4.0, 4.3, 4.6, 5.2, 5.5, 5.4, 5.1, 5.2, 5.2, 5.3, 5.3, 5.0, 4.6, 4.2,
          3.8, 3.2, 2.6, 1.8, 1.2, 0.6, 0.3, 0.12, 0.0, -0.05, -0.08, -0.1, -0.1, -0.1, -0.12, -0.12, -0.12,
          -0.12]
DFC_HI = [0.1, 0.12, 0.12, 0.1, 0.12, 0.12, 0.12, 0.12, 0.12, 0.15, 0.17, 0.25, 0.4, 0.6, 0.8, 1.4, 1.9, 1.9,
          3.2, 4.0, 4.9, 5.8, 6.0, 6.2, 6.9, 7.4, 7.6, 7.0, 7.0, 7.0, 7.0, 7.1, 6.7, 6.3, 5.9, 5.3, 4.7, 4.1,
          3.1, 2.5, 1.6, 1.0, 0.6, 0.4, 0.25, 0.18, 0.15, 0.14, 0.14, 0.12, 0.12, 0.12, 0.12]
DFC_NULL = [0.12, 0.15, 0.15, 0.2, 0.22, 0.25, 0.35, 0.45, 0.6, 0.65, 0.75, 0.85, 0.95, 1.3, 1.8, 2.3, 2.8, 3.1,
            3.5, 4.1, 4.6, 5.0, 5.4, 5.6, 6.0, 6.4, 6.6, 6.5, 6.7, 6.4, 6.3, 5.8, 5.5, 5.1, 4.7, 4.2, 3.4, 2.8,
            2.2, 1.5, 0.9, 0.6, 0.4, 0.28, 0.2, 0.15, 0.12, 0.1, 0.12, 0.12, 0.1, 0.1, 0.15]
DFC_ORG = [0.0, 0.0, 0.0, 0.0, 0.0, 0.0, 0.0, 0.0, 0.0, 0.02, 0.05, 0.2, 0.6, 1.3, 1.9, 2.8, 3.6, 4.3, 5.3, 5.5,
           5.8, 6.1, 6.2, 6.6, 6.9, 7.0, 6.9, 6.9, 6.7, 6.6, 6.4, 6.0, 5.8, 5.4, 5.0, 4.6, 4.1, 3.5, 3.1, 2.4,
           1.8, 1.1, 0.7, 0.4, 0.25, 0.12, 0.06, 0.03, 0.02, 0.02, 0.0, 0.0, 0.0]
DFC_BRC = [0.0, 0.0, 0.0, 0.0, 0.0, 0.0, 0.0, 0.0, 0.0, 0.02, 0.03, 0.15, 0.45, 0.75, 1.1, 1.7, 2.4, 2.9, 3.5,
           4.2, 4.6, 5.0, 5.4, 5.7, 6.2, 6.6, 7.0, 6.8, 6.9, 6.5, 6.4, 5.6, 5.4, 5.0, 4.6, 4.2, 3.6, 2.9, 2.3,
           1.7, 1.2, 0.7, 0.45, 0.25, 0.15, 0.08, 0.04, 0.02, 0.02, 0.02, 0.0, 0.0, 0.0]
DFC_FULL = [0.0, 0.0, 0.0, 0.0, 0.0, 0.0, 0.0, 0.0, 0.0, 0.02, 0.03, 0.15, 0.4, 0.65, 0.95, 1.5, 2.2, 2.8, 3.1,
            3.5, 4.1, 4.4, 4.8, 5.0, 5.4, 6.0, 5.4, 5.9, 5.3, 6.0, 5.7, 5.0, 4.8, 4.7, 4.3, 4.0, 3.4, 2.8, 2.4,
            1.8, 1.2, 0.7, 0.45, 0.25, 0.15, 0.06, 0.03, 0.02, 0.02, 0.0, 0.0, 0.0, 0.0]

PANELS = [
    ("Aw south", AW_OBS, AW_LO, AW_HI, AW_NULL, AW_ORG, AW_BRC, AW_FULL),
    ("BSk north", BSK_OBS, BSK_LO, BSK_HI, BSK_NULL, BSK_ORG, BSK_BRC, BSK_FULL),
    ("Cfa north", CFA_OBS, CFA_LO, CFA_HI, CFA_NULL, CFA_ORG, CFA_BRC, CFA_FULL),
    ("Cfb north", CFBN_OBS, CFBN_LO, CFBN_HI, CFBN_NULL, CFBN_ORG, CFBN_BRC, CFBN_FULL),
    ("Cfb south", CFBS_OBS, CFBS_LO, CFBS_HI, CFBS_NULL, CFBS_ORG, CFBS_BRC, CFBS_FULL),
    ("Csa north", CSA_OBS, CSA_LO, CSA_HI, CSA_NULL, CSA_ORG, CSA_BRC, CSA_FULL),
    ("Csb north", CSB_OBS, CSB_LO, CSB_HI, CSB_NULL, CSB_ORG, CSB_BRC, CSB_FULL),
    ("Dfb north", DFB_OBS, DFB_LO, DFB_HI, DFB_NULL, DFB_ORG, DFB_BRC, DFB_FULL),
    ("Dfc north", DFC_OBS, DFC_LO, DFC_HI, DFC_NULL, DFC_ORG, DFC_BRC, DFC_FULL),
]

# layout in pixels (top-left origin)
COL_LEFT = [138, 783, 1428]
PANEL_W = 626
ROW_TOP = [17, 623, 1229]
STRIP_H = 62
PANEL_H = 521
XLIM = (-17.2, 383.2)
YLIM = (-0.94, 14.85)
LW = 1.3

FS_TICK = 11.1
FS_STRIP = 11.6
FS_LEGEND = 11.6
FS_TITLE = 14.2


def rect(left, top, width, height):
    return [left / W, 1 - (top + height) / H, width / W, height / H]


def fit(values, n):
    if len(values) != n:
        print("length mismatch", len(values), n)
    return list(values[:n])


def draw_panel(fig, row, col, title, obs, lo, hi, models):
    left, top = COL_LEFT[col], ROW_TOP[row]

    strip = fig.add_axes(rect(left, top, PANEL_W, STRIP_H))
    strip.set_facecolor(STRIP_BG)
    strip.set_xticks([])
    strip.set_yticks([])
    for s in strip.spines.values():
        s.set_visible(False)
    strip.text(0.5, 0.5, title, ha="center", va="center", fontsize=FS_STRIP, color="#1A1A1A",
               transform=strip.transAxes)

    ax = fig.add_axes(rect(left, top + STRIP_H, PANEL_W, PANEL_H))
    ax.set_facecolor(PANEL_BG)
    for s in ax.spines.values():
        s.set_visible(False)
    ax.set_xlim(*XLIM)
    ax.set_ylim(*YLIM)
    ax.set_xticks([0, 100, 200, 300])
    ax.set_xticks([50, 150, 250, 350], minor=True)
    ax.set_yticks([0, 5, 10])
    ax.set_yticks([2.5, 7.5, 12.5], minor=True)
    ax.set_axisbelow(True)
    ax.grid(which="major", color="white", linewidth=1.45)
    ax.grid(which="minor", color="white", linewidth=0.72)
    ax.tick_params(which="minor", length=0)
    ax.tick_params(which="major", length=3.6, width=1.0, color="#333333",
                   labelsize=FS_TICK, labelcolor="#4D4D4D", pad=3.0)
    if row != 2:
        ax.tick_params(bottom=False, labelbottom=False)
    if col != 0:
        ax.tick_params(left=False, labelleft=False)

    n = len(DOY)
    ax.fill_between(DOY, fit(lo, n), fit(hi, n), color=RIBBON, linewidth=0, zorder=2)
    ax.plot(DOY, fit(obs, n), color=COLORS["Observed"], linewidth=LW, zorder=3)
    for name, vals in zip(SETUPS[1:], models):
        ax.plot(DOY, fit(vals, n), color=COLORS[name], linewidth=LW, zorder=3)
    return ax


def main():
    fig = plt.figure(figsize=(W / DPI, H / DPI), dpi=DPI)
    fig.patch.set_facecolor("white")

    for i, (title, obs, lo, hi, *models) in enumerate(PANELS):
        draw_panel(fig, i // 3, i % 3, title, obs, lo, hi, models)

    fig.text(44 / W, 1 - 955 / H, r"Simulated GPP (g C m$^{-2}$ d$^{-1}$)", rotation=90,
             ha="center", va="center", fontsize=FS_TITLE, color="black")
    fig.text(1099 / W, 1 - 1886 / H, "DOY", ha="center", va="center", fontsize=FS_TITLE, color="black")

    # legend: "Setup:" title to the left of a single row of keys
    leg_y = 1 - 2000 / H
    fig.text(672 / W, leg_y, "Setup:", ha="right", va="center", fontsize=FS_TITLE, color="black")
    handles = [
        (Rectangle((0, 0), 1, 1, facecolor="#F2F2F2", edgecolor="none"),
         Line2D([], [], color=COLORS[name], linewidth=LW))
        for name in SETUPS
    ]
    fig.legend(handles, SETUPS, ncol=5, loc="center left",
               bbox_to_anchor=(705 / W, leg_y), frameon=False, fontsize=FS_LEGEND,
               borderpad=0, borderaxespad=0, handlelength=1.8, handleheight=1.8,
               handletextpad=0.68, columnspacing=0.74)

    fig.savefig("out.png", dpi=DPI, facecolor="white")


if __name__ == "__main__":
    main()
